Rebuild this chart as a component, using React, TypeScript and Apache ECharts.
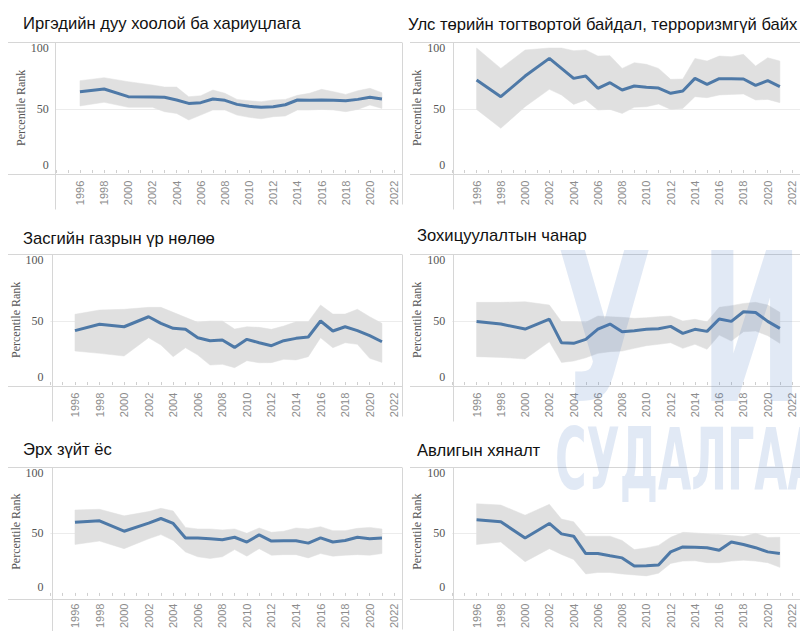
import React, { useEffect, useRef } from "react";
import * as echarts from "echarts";

const years = [1996, 1998, 2000, 2002, 2003, 2004, 2005, 2006, 2007, 2008, 2009, 2010, 2011, 2012, 2013, 2014, 2015, 2016, 2017, 2018, 2019, 2020, 2021];

const titles = [
  "Иргэдийн дуу хоолой ба хариуцлага",
  "Улс төрийн тогтвортой байдал, терроризмгүй байх",
  "Засгийн газрын үр нөлөө",
  "Зохицуулалтын чанар",
  "Эрх зүйт ёс",
  "Авлигын хяналт",
];

const yTickLabels = [0, 50, 100];
const yAxisTitle = "Percentile Rank";
const watermarkTop = ["У", "И"];
const watermarkBottom = "СУДАЛГАА";

const voiceEst = [64.2, 66.4, 60.1, 59.8, 59.6, 57.4, 54.6, 55.2, 58.2, 57.1, 53.8, 52.2, 51.4, 51.9, 53.5, 57.4, 57.1, 57.4, 57.1, 56.8, 57.9, 59.6, 58.2];
const voiceHi = [73.2, 75.7, 72.4, 69.7, 68, 68, 60.1, 60.9, 65.6, 62.9, 57.9, 56.8, 56, 57.4, 57.9, 61.2, 62.9, 66.1, 64.2, 62, 65, 67, 63.4];
const voiceLo = [52.5, 55.5, 51.4, 51.4, 47.8, 46.4, 41, 45, 49.2, 49.2, 45, 43.2, 42, 43.7, 44.3, 49.2, 49.2, 49.7, 49.2, 47.8, 49.7, 53.3, 50.5];

const stabEst = [73.8, 60.1, 77, 91.5, 83.3, 75.1, 77, 67, 71.6, 65.6, 68.9, 67.8, 67.2, 62.9, 64.8, 75.1, 70.2, 74.9, 74.9, 74.6, 69.4, 73.2, 68.3];
const stabHi = [100, 83.3, 98.4, 100, 100, 97.8, 98.4, 93.4, 93.7, 83.3, 88, 86.6, 83.3, 74.3, 74.6, 91.5, 89.3, 93.4, 92.9, 94.8, 85.2, 92, 89.3];
const stabLo = [49.7, 34.2, 51.9, 66.1, 61.5, 53.8, 57.4, 49.2, 49.7, 46.4, 51.4, 51.9, 54.1, 49.7, 50.5, 60.1, 59.3, 61.5, 62, 62.3, 57.4, 57.9, 55.2];

const govEst = [42.1, 47.3, 45.3, 53.5, 48.1, 44, 43.2, 36.3, 33.9, 34.4, 28.4, 35, 32.2, 29.8, 33.9, 35.8, 36.9, 50, 41.8, 45.3, 42.1, 38, 33];
const govHi = [55.5, 59, 59.6, 61.2, 61.2, 57.1, 53, 48.9, 50, 50, 43.4, 45.3, 44.8, 43.2, 45.9, 49.4, 49.4, 63.1, 55.7, 55.7, 59.6, 53.5, 48.1];
const govLo = [25.4, 23.5, 21.3, 36.3, 30.3, 20.8, 28.1, 22.1, 13.9, 14.5, 11.8, 17.5, 15.8, 15.9, 18.6, 18.1, 20.8, 36.3, 28.1, 32.2, 30.9, 19.4, 16.1];

const regEst = [49.7, 47.5, 43.4, 51.6, 32.2, 31.7, 35, 43.4, 47.5, 41.2, 42.1, 43.2, 43.7, 45.6, 39.9, 43.2, 41.5, 51.6, 49.7, 57.6, 57, 49.7, 44];
const regHi = [65.3, 65.3, 65.8, 63.1, 49.4, 49.4, 48.9, 54.1, 53.5, 53, 52.2, 52.7, 53.5, 54.1, 50, 51.4, 49.4, 61.2, 62.6, 64.4, 65.3, 63.1, 57.1];
const regLo = [20.8, 20.2, 18.9, 33, 16.1, 17.2, 19.9, 23.5, 24.9, 25.4, 27.6, 29.8, 30.9, 32.2, 27.6, 30.9, 26.8, 38.5, 33.6, 41.2, 41.8, 38, 31.7];

const lawEst = [58.8, 60.1, 51.4, 58.2, 62, 57.9, 45.7, 45.7, 45.1, 44.3, 46.4, 42.4, 48.4, 43.2, 43.4, 43.4, 41.5, 45.9, 42.4, 43.7, 46.4, 45.1, 45.7];
const lawHi = [69.1, 69.7, 64.2, 67.8, 70.5, 68.3, 54.6, 53.3, 53.3, 52.5, 53.3, 49.7, 54.1, 50.5, 51.4, 54.1, 53.3, 55.2, 51.9, 51.9, 53.8, 54.6, 53.3];
const lawLo = [40.4, 43.2, 36.9, 45.1, 48.6, 43.7, 34.2, 30.1, 28.7, 30.1, 36.1, 30.6, 36.9, 31.4, 31.9, 31.9, 29.2, 32.8, 30.6, 31.4, 31.9, 31.4, 32.8];

const corrEst = [60.9, 59.3, 45.7, 57.9, 49.2, 47.3, 32.8, 32.8, 30.9, 29.2, 22.4, 22.7, 23.2, 34.2, 38.3, 38, 37.7, 35.5, 42.4, 40.4, 37.7, 34.2, 32.8];
const corrHi = [74.3, 73.2, 64.8, 73.8, 61.5, 59.3, 47.3, 47.3, 47.3, 43.7, 36.1, 37.5, 39.6, 46.4, 50.5, 50, 49.2, 48.6, 47.8, 47, 49.7, 46.2, 46.4];
const corrLo = [40.4, 42.4, 26, 36.9, 32, 27.9, 15.8, 17, 17, 15.8, 15, 14.2, 16.4, 24.6, 26.5, 26.8, 25.2, 25.2, 26.5, 27.3, 26.5, 25.2, 21.3];

const panelData = [
  { est: voiceEst, hi: voiceHi, lo: voiceLo },
  { est: stabEst, hi: stabHi, lo: stabLo },
  { est: govEst, hi: govHi, lo: govLo },
  { est: regEst, hi: regHi, lo: regLo },
  { est: lawEst, hi: lawHi, lo: lawLo },
  { est: corrEst, hi: corrHi, lo: corrLo },
];

// layout
const X_MIN = 1994;
const X_MAX = 2022.66;
const Y_MIN = -3;
const Y_MAX = 105;
const rowTops = [41.9, 253.9, 466.9];
const GRID_H = 131.8;
const layout = [
  { x0: 55.8, ppy: 12.08, axisX: 55.5, titleX: 23, titleBase: 29 },
  { x0: 452.3, ppy: 12.36, axisX: 453.5, titleX: 408, titleBase: 30 },
  { x0: 50.4, ppy: 12.28, axisX: 52.5, titleX: 23, titleBase: 244 },
  { x0: 452.3, ppy: 12.36, axisX: 453.5, titleX: 417, titleBase: 241 },
  { x0: 50.4, ppy: 12.28, axisX: 52.5, titleX: 23, titleBase: 455 },
  { x0: 452.3, ppy: 12.36, axisX: 453.5, titleX: 417, titleBase: 456 },
];

const BLUE = "#4e79a7";
const BAND = "#e0e0e0";
const FRAME = "#d6d6d6";

function buildOption() {
  const grids: any[] = [];
  const xAxes: any[] = [];
  const yAxes: any[] = [];
  const series: any[] = [];
  const graphics: any[] = [];

  panelData.forEach((p, i) => {
    const L = layout[i];
    const row = Math.floor(i / 2);
    const col = i % 2;
    const top = rowTops[row];
    grids.push({
      left: L.x0,
      top: top,
      width: (X_MAX - X_MIN) * L.ppy,
      height: GRID_H,
      containLabel: false,
    });
    xAxes.push({
      type: "value",
      gridIndex: i,
      min: X_MIN,
      max: X_MAX,
      interval: 2,
      axisLine: { show: false },
      axisTick: { show: true, length: 3, lineStyle: { color: "#cfcfcf" } },
      minorTick: { show: true, splitNumber: 2, length: 3, lineStyle: { color: "#cfcfcf" } },
      splitLine: { show: false },
      axisLabel: {
        rotate: 90,
        margin: 7,
        showMinLabel: false,
        fontFamily: "Liberation Sans",
        fontSize: 11,
        color: "#8c8c8c",
        formatter: (v: number) => String(v),
      },
    });
    yAxes.push({
      type: "value",
      gridIndex: i,
      min: Y_MIN,
      max: Y_MAX,
      axisLine: { show: false },
      axisTick: { show: false },
      splitLine: { show: false },
      name: yAxisTitle,
      nameLocation: "middle",
      nameRotate: 90,
      nameGap: 26,
      nameTextStyle: { fontFamily: "Liberation Serif", fontSize: 12, color: "#555" },
      axisLabel: {
        customValues: yTickLabels,
        margin: 7,
        fontFamily: "Liberation Serif",
        fontSize: 12,
        color: "#555",
        formatter: (v: number) => (v === 0 ? "{z|0}" : String(v)),
        rich: {
          z: { fontFamily: "Liberation Serif", fontSize: 12, color: "#555", padding: [0, 0, 11, 0] },
        },
      },
    });
    const hi = p.hi;
    const lo = p.lo;
    series.push({
      type: "custom",
      xAxisIndex: i,
      yAxisIndex: i,
      silent: true,
      z: 1,
      data: [[years[0], lo[0]]],
      renderItem: (params: any, api: any) => {
        const pts: number[][] = [];
        for (let k = 0; k < years.length; k++) pts.push(api.coord([years[k], hi[k]]));
        for (let k = years.length - 1; k >= 0; k--) pts.push(api.coord([years[k], lo[k]]));
        return {
          type: "polygon",
          shape: { points: pts },
          style: { fill: BAND, stroke: BAND, lineWidth: 0.5 },
        };
      },
      markLine: {
        silent: true,
        symbol: "none",
        label: { show: false },
        lineStyle: { color: "#ececec", width: 1, type: "solid" },
        data: [{ yAxis: 50 }],
        z: 0,
      },
    });
    series.push({
      type: "line",
      xAxisIndex: i,
      yAxisIndex: i,
      symbol: "none",
      lineStyle: { width: 3, color: BLUE },
      data: years.map((y, k) => [y, p.est[k]]),
      z: 3,
    });

    // frame lines
    const yt = Math.round(top) + 0.5;
    const yb = Math.round(top + GRID_H) + 0.5;
    const xl = col === 0 ? 8 : 410;
    const xr = col === 0 ? 402 : 800;
    const lineStyle = { stroke: FRAME, lineWidth: 1 };
    graphics.push({ type: "line", silent: true, z: 10, shape: { x1: xl, y1: yt, x2: xr, y2: yt }, style: lineStyle });
    graphics.push({ type: "line", silent: true, z: 10, shape: { x1: xl, y1: yb, x2: xr, y2: yb }, style: lineStyle });
    graphics.push({ type: "line", silent: true, z: 10, shape: { x1: L.axisX, y1: yt, x2: L.axisX, y2: yb + 35 }, style: lineStyle });
    if (col === 0) {
      graphics.push({ type: "line", silent: true, z: 10, shape: { x1: 402.5, y1: yt, x2: 402.5, y2: yb + 30 }, style: lineStyle });
    }
    graphics.push({
      type: "text",
      silent: true,
      z: 10,
      x: L.titleX,
      y: L.titleBase - 5.8,
      style: {
        text: titles[i],
        fontFamily: "Liberation Sans",
        fontSize: 16.6,
        fill: "#111",
        align: "left",
        verticalAlign: "middle",
      },
    });
  });

  // watermark
  const wmFill = "rgba(70,120,190,0.16)";
  graphics.push({
    type: "text", silent: true, z: 100, x: 557, y: 329, scaleX: 0.6,
    style: { text: watermarkTop[0], fontFamily: "DejaVu Sans", fontWeight: "bold", fontSize: 206, fill: wmFill, align: "left", verticalAlign: "middle" },
  });
  graphics.push({
    type: "text", silent: true, z: 100, x: 700, y: 329, scaleX: 0.6,
    style: { text: watermarkTop[1], fontFamily: "DejaVu Sans", fontWeight: "bold", fontSize: 206, fill: wmFill, align: "left", verticalAlign: "middle" },
  });
  graphics.push({
    type: "text", silent: true, z: 100, x: 555, y: 459, scaleX: 0.5,
    style: { text: watermarkBottom, fontFamily: "DejaVu Sans", fontWeight: "bold", fontSize: 86, fill: wmFill, align: "left", verticalAlign: "middle" },
  });

  return {
    animation: false,
    backgroundColor: "#ffffff",
    grid: grids,
    xAxis: xAxes,
    yAxis: yAxes,
    series,
    graphic: graphics,
  };
}

export default function App() {
  const ref = useRef<HTMLDivElement>(null);
  useEffect(() => {
    if (!ref.current) return;
    const chart = echarts.init(ref.current, null, { renderer: "svg" });
    chart.setOption(buildOption() as any);
    return () => chart.dispose();
  }, []);
  return (
    <div
      ref={ref}
      style={{ position: "absolute", left: 0, top: 0, width: 800, height: 631, background: "#fff" }}
    />
  );
}
